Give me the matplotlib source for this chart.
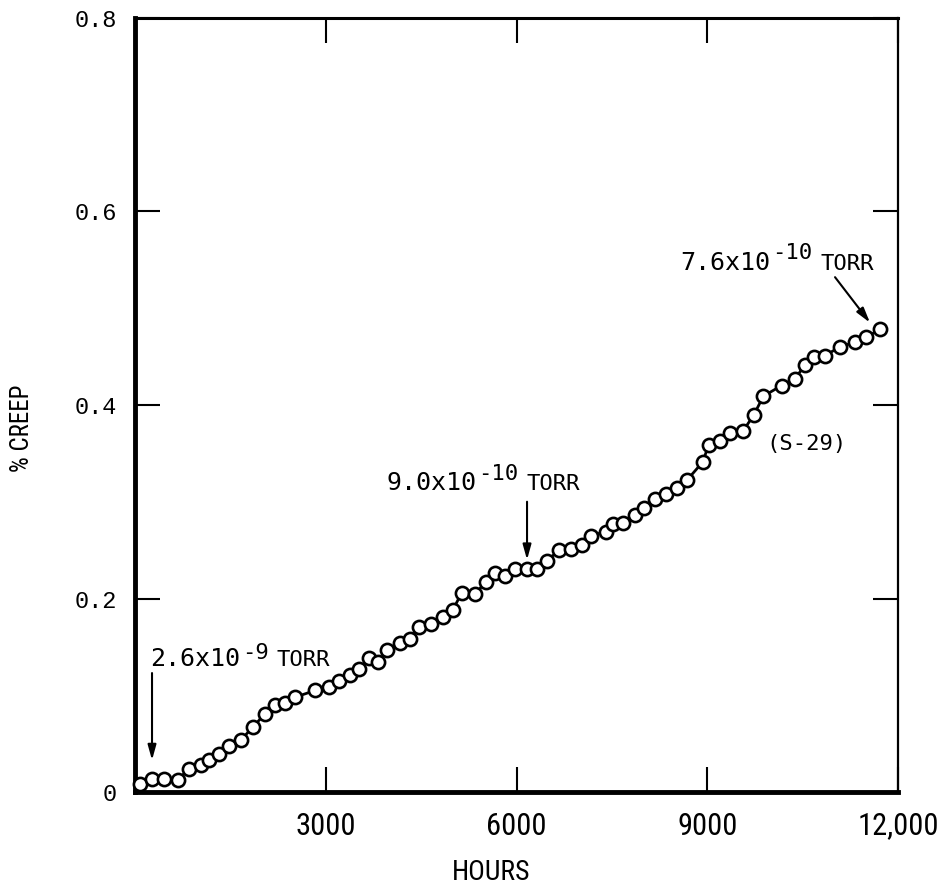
import matplotlib
matplotlib.use("Agg")
import matplotlib.pyplot as plt
from matplotlib import font_manager

# creep test S-29
hours = [79, 263, 461, 672, 854, 1038, 1169, 1326, 1483, 1667,
         1851, 2045, 2202, 2359, 2516, 2831, 3056, 3213, 3381, 3528,
         3685, 3826, 3968, 4168, 4325, 4471, 4655, 4849, 4997, 5138,
         5347, 5520, 5662, 5819, 5976, 6157, 6322, 6475, 6673, 6849,
         7022, 7172, 7400, 7510, 7675, 7864, 8005, 8178, 8351, 8516,
         8677, 8928, 9023, 9200, 9358, 9562, 9735, 9881, 10168, 10380,
         10532, 10679, 10852, 11087, 11331, 11497, 11717]
creep = [0.008, 0.014, 0.014, 0.013, 0.024, 0.028, 0.033, 0.039, 0.048, 0.054,
         0.067, 0.081, 0.090, 0.092, 0.098, 0.105, 0.109, 0.115, 0.121, 0.127,
         0.139, 0.134, 0.147, 0.154, 0.158, 0.171, 0.174, 0.181, 0.188, 0.206,
         0.205, 0.217, 0.226, 0.223, 0.231, 0.230, 0.231, 0.239, 0.250, 0.251,
         0.255, 0.265, 0.269, 0.277, 0.278, 0.286, 0.293, 0.303, 0.308, 0.314,
         0.322, 0.341, 0.359, 0.363, 0.371, 0.373, 0.390, 0.409, 0.420, 0.427,
         0.441, 0.450, 0.451, 0.460, 0.465, 0.470, 0.478]

x_ticks = [3000, 6000, 9000, 12000]
x_labels = ["3000", "6000", "9000", "12,000"]
y_ticks = [0, 0.2, 0.4, 0.6, 0.8]
y_labels = ["0", "0.2", "0.4", "0.6", "0.8"]

MONO = "DejaVu Sans Mono"

# narrow sans for the axis numbers, if one is around
installed = {f.name for f in font_manager.fontManager.ttflist}
NARROW = None
for name in ["Liberation Sans Narrow", "DejaVu Sans Condensed",
             "Roboto Condensed", "Open Sans Condensed"]:
    if name in installed:
        NARROW = name
        break
if NARROW:
    narrow = dict(family=NARROW)
    xsize = 22
else:
    narrow = dict(family="Roboto", stretch="condensed")
    xsize = 20

fig = plt.figure(figsize=(9.45, 8.88), dpi=100)
ax = fig.add_axes([0.1429, 0.108, 0.8074, 0.872])

ax.plot(hours, creep, color="black", lw=2.0, marker="o", ms=9.5,
        mfc="white", mec="black", mew=1.9, clip_on=False, zorder=3)

ax.set_xlim(0, 12000)
ax.set_ylim(0, 0.8)
ax.set_xticks(x_ticks)
ax.set_xticklabels(x_labels, fontsize=xsize, **narrow)
ax.get_xticklabels()[-1].set_x(11950)
ax.set_yticks(y_ticks)
ax.set_yticklabels(y_labels, family="Liberation Mono", fontsize=17)
ax.tick_params(direction="in", length=18, width=1.5, top=True, right=True,
               color="black")
ax.tick_params(axis="x", pad=14)
ax.tick_params(axis="y", pad=13)

for side, lw in [("left", 3.5), ("bottom", 3.5), ("top", 2.2), ("right", 1.6)]:
    ax.spines[side].set_linewidth(lw)

fig.text(491 / 945, 1 - 872 / 888, "HOURS", ha="center", va="center",
         fontsize=20, **narrow)
fig.text(22 / 945, 1 - 428 / 888, "% CREEP", ha="center", va="center",
         rotation=90, fontsize=18, **narrow)

# pressure annotations: anchor, base text, exponent, raise of exponent (pt)
notes = [
    ((236, 0.130), "2.6x10", "-9", 5),
    ((3947, 0.312), "9.0x10", "-10", 7),
    ((8571, 0.5395), "7.6x10", "-10", 8),
]
ADV = 0.602  # advance width of DejaVu Sans Mono, in em
for anchor, txt, exp, rise in notes:
    w_base = len(txt) * ADV * 18 + 1
    w_exp = len(exp) * ADV * 16 + 6
    ax.annotate(txt, anchor, xytext=(0, 0), textcoords="offset points",
                family=MONO, fontsize=18, va="baseline")
    ax.annotate(exp, anchor, xytext=(w_base, rise), textcoords="offset points",
                family=MONO, fontsize=16, va="baseline")
    ax.annotate("TORR", anchor, xytext=(w_base + w_exp, 0),
                textcoords="offset points", family=MONO, fontsize=16,
                va="baseline")

arrow = dict(arrowstyle="-|>,head_length=0.9,head_width=0.25", color="black",
             lw=1.5, shrinkA=0, shrinkB=0)
ax.annotate("", xy=(267, 0.033), xytext=(267, 0.123), arrowprops=arrow)
ax.annotate("", xy=(6165, 0.240), xytext=(6165, 0.300), arrowprops=arrow)
ax.annotate("", xy=(11559, 0.485), xytext=(11009, 0.532), arrowprops=arrow)

ax.text(9924, 0.3535, "(S-29)", family=MONO, fontsize=16, va="baseline")

fig.savefig("out.png", dpi=100)
